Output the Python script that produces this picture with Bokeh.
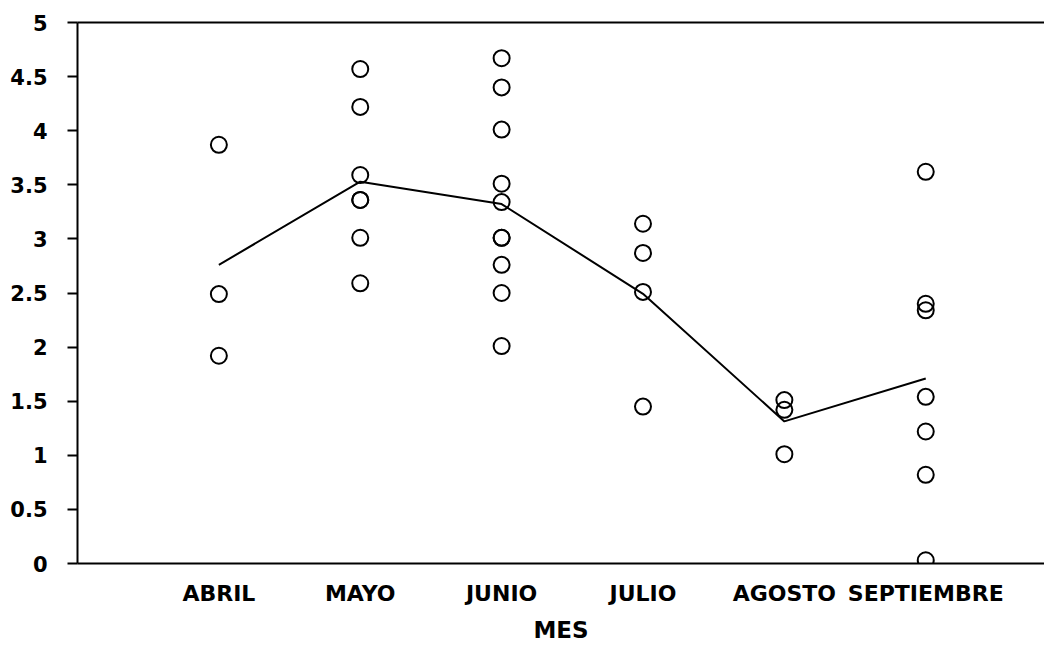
from bokeh.plotting import figure
from bokeh.models import LinearAxis, FixedTicker, Range1d
from bokeh.embed import file_html
from bokeh.resources import INLINE
import numpy as np

months = ["ABRIL", "MAYO", "JUNIO", "JULIO", "AGOSTO", "SEPTIEMBRE"]
abril = [3.87, 2.49, 1.92]
mayo = [4.57, 4.22, 3.59, 3.36, 3.36, 3.01, 2.59]
junio = [4.67, 4.40, 4.01, 3.51, 3.34, 3.01, 3.01, 2.76, 2.50, 2.01]
julio = [3.14, 2.87, 2.51, 1.45]
agosto = [1.51, 1.42, 1.01]
septiembre = [3.62, 2.40, 2.34, 1.54, 1.22, 0.82, 0.03]
series = [abril, mayo, junio, julio, agosto, septiembre]
y_ticks = [0, 0.5, 1, 1.5, 2, 2.5, 3, 3.5, 4, 4.5, 5]
y_tick_labels = ["0", "0.5", "1", "1.5", "2", "2.5", "3", "3.5", "4", "4.5", "5"]

FONT = "DejaVu Sans"

p = figure(width=1044, height=645, output_backend="svg", toolbar_location=None,
           x_range=Range1d(0, 6.84), y_range=Range1d(0, 5),
           min_border_left=77, min_border_right=0, min_border_top=22, min_border_bottom=82,
           x_axis_location=None, y_axis_location=None)
p.outline_line_color = None
p.grid.visible = False
p.background_fill_color = "white"
p.border_fill_color = "white"

xs, ys = [], []
for i, vals in enumerate(series):
    xs += [i + 1] * len(vals)
    ys += vals
p.scatter(xs, ys, marker="circle", size=16, fill_color=None, line_color="black", line_width=2)

means = [float(np.mean(v)) for v in series]
p.line(list(range(1, len(months) + 1)), means, line_color="black", line_width=2)

# y axis
ya = LinearAxis(ticker=FixedTicker(ticks=y_ticks))
ya.major_label_overrides = {t: l for t, l in zip(y_ticks, y_tick_labels)}
ya.axis_line_width = 2
ya.axis_line_color = "black"
ya.major_tick_in = 0
ya.major_tick_out = 10
ya.major_tick_line_width = 2
ya.minor_tick_line_color = None
ya.major_label_standoff = 20
ya.major_label_text_font = FONT
ya.major_label_text_font_style = "bold"
ya.major_label_text_font_size = "21px"
ya.major_label_text_color = "black"
p.add_layout(ya, "left")

# x axis
xa = LinearAxis(ticker=FixedTicker(ticks=list(range(1, len(months) + 1))))
xa.major_label_overrides = {i + 1: m for i, m in enumerate(months)}
xa.axis_line_width = 2
xa.axis_line_color = "black"
xa.major_tick_line_color = None
xa.minor_tick_line_color = None
xa.major_label_standoff = 11
xa.major_label_text_font = FONT
xa.major_label_text_font_style = "bold"
xa.major_label_text_font_size = "22px"
xa.major_label_text_color = "black"
xa.axis_label = "MES"
xa.axis_label_standoff = 8
xa.axis_label_text_font = FONT
xa.axis_label_text_font_style = "bold"
xa.axis_label_text_font_size = "23px"
xa.axis_label_text_color = "black"
p.add_layout(xa, "below")

# top border line
ta = LinearAxis(ticker=FixedTicker(ticks=[]))
ta.axis_line_width = 2
ta.axis_line_color = "black"
ta.major_tick_line_color = None
ta.minor_tick_line_color = None
ta.major_label_text_font_size = "0px"
p.add_layout(ta, "above")

open("out.html", "w").write(file_html(p, INLINE))
